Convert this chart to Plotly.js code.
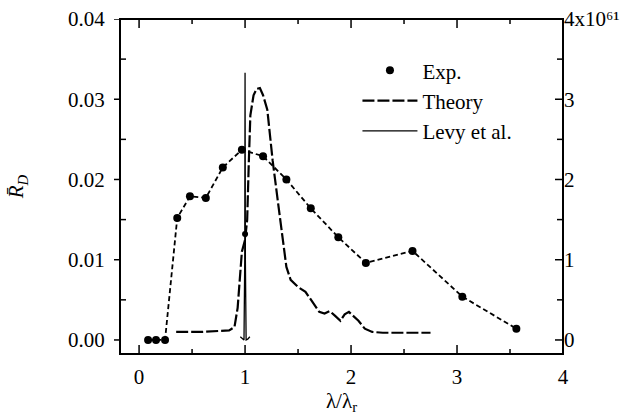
<!DOCTYPE html>
<html>
<head>
<meta charset="utf-8">
<script src="https://cdn.plot.ly/plotly-3.0.1.min.js"></script>
<style>html,body{margin:0;padding:0;background:#fff}#chart{width:636px;height:415px}#err{position:absolute;left:0;top:0;width:636px;font:10px monospace;color:red;white-space:pre-wrap}</style>
</head>
<body>
<div id="chart"></div>
<div id="err"></div>
<script>
function showErr(m){ document.getElementById('err').textContent += String(m).slice(0, 600) + '\n'; }
window.onerror = function(msg, src, line, col, e){ showErr('ERR ' + msg + ' ' + (e && e.stack ? e.stack : '')); };
window.addEventListener('unhandledrejection', function(ev){ showErr('REJ ' + (ev.reason && ev.reason.stack ? ev.reason.stack : ev.reason)); });

// Experimental points (lambda/lambda_r, R_D)
const expX = [0.085, 0.16, 0.245, 0.36, 0.48, 0.63, 0.79, 0.97, 1.17, 1.39, 1.62, 1.88, 2.14, 2.58, 3.05, 3.56];
const expY = [0, 0, 0, 0.0152, 0.0179, 0.0177, 0.0215, 0.0237, 0.0229, 0.0200, 0.0164, 0.0128, 0.0096, 0.0111, 0.0054, 0.0014];
// isolated point at resonance
const extraX = [1.0];
const extraY = [0.0132];
// Theory curve
const theoryX = [0.35, 0.6, 0.85, 0.9, 0.93, 0.955, 0.97, 1.0, 1.02, 1.035, 1.05, 1.08, 1.11, 1.14, 1.17, 1.21, 1.26, 1.32, 1.39, 1.43, 1.5, 1.57, 1.64, 1.7, 1.75, 1.8, 1.85, 1.9, 1.94, 1.98, 2.02, 2.07, 2.13, 2.2, 2.3, 2.5, 2.75];
const theoryY = [0.0010, 0.0010, 0.0012, 0.0016, 0.0040, 0.0090, 0.0110, 0.0125, 0.0150, 0.0220, 0.0280, 0.0305, 0.0313, 0.0314, 0.0305, 0.0287, 0.0224, 0.0162, 0.0091, 0.0075, 0.0066, 0.0060, 0.0046, 0.0035, 0.0033, 0.0036, 0.0030, 0.0024, 0.0032, 0.0035, 0.0030, 0.0024, 0.0014, 0.0010, 0.0009, 0.0009, 0.0009];
// Levy et al. (right axis, units of 10^61)
const levyX = [0.955, 0.975, 0.99, 0.997, 1.0, 1.003, 1.01, 1.025, 1.045];
const levyY = [0.04, 0.01, 0.0, 1.0, 3.33, 1.0, 0.0, 0.01, 0.04];
// ticks
const xTicks = [0, 1, 2, 3, 4];
const xMinor = [0.5, 1.5, 2.5, 3.5];
const yTicks = [0, 0.01, 0.02, 0.03, 0.04];
const yTickText = ["0.00", "0.01", "0.02", "0.03", "0.04"];
const yMinor = [0.005, 0.015, 0.025, 0.035];
const y2Ticks = [0, 1, 2, 3, 4];
const y2TickText = ["0", "1", "2", "3", "4x10\u2076\u00b9"];

const serif = "Liberation Serif, Times New Roman, serif";
const xRange = [-0.18, 4.0];
const yRange = [-0.00175, 0.04];
const y2Range = [-0.175, 4.0];

const traces = [
  {x: expX, y: expY, mode: 'lines', line: {color: '#000', width: 1.8, dash: '5px,3px'}, showlegend: false},
  {x: expX, y: expY, mode: 'markers', name: 'Exp.', marker: {color: '#000', size: 8}},
  {x: theoryX, y: theoryY, mode: 'lines', name: 'Theory', line: {color: '#000', width: 2.2, dash: '12px,3px'}},
  {x: levyX, y: levyY, yaxis: 'y2', mode: 'lines', name: 'Levy et al.', line: {color: '#000', width: 1.3}},
  {x: extraX, y: extraY, mode: 'markers', marker: {color: '#000', size: 6}, showlegend: false}
];

// frame and tick marks (positions come from the tick arrays)
const ln = {color: '#000', width: 1.5};
const shapes = [
  {type: 'rect', xref: 'paper', yref: 'paper', x0: 0, x1: 1, y0: 0, y1: 1, line: {color: '#000', width: 2}, layer: 'above'}
];
function xTick(v, len, top) {
  return {type: 'line', xref: 'x', yref: 'paper', ysizemode: 'pixel', yanchor: top ? 1 : 0,
          x0: v, x1: v, y0: 0, y1: top ? -len : len, line: ln, layer: 'above'};
}
function yTick(v, ref, anchor, a, b) {
  return {type: 'line', xref: 'paper', yref: ref, xsizemode: 'pixel', xanchor: anchor,
          x0: a, x1: b, y0: v, y1: v, line: ln, layer: 'above'};
}
xTicks.forEach(v => { shapes.push(xTick(v, 9, false)); shapes.push(xTick(v, 9, true)); });
xMinor.forEach(v => { shapes.push(xTick(v, 5, false)); shapes.push(xTick(v, 5, true)); });
yTicks.forEach(v => shapes.push(yTick(v, 'y', 0, -6, 0)));
yMinor.forEach(v => { shapes.push(yTick(v, 'y', 0, 0, 6)); shapes.push(yTick(v, 'y', 1, -6, 0)); });
y2Ticks.forEach(v => shapes.push(yTick(v, 'y2', 1, -8, 0)));

const clear = 'rgba(0,0,0,0)';
const layout = {
  width: 636, height: 415,
  margin: {l: 120, r: 73, t: 19, b: 61},
  font: {family: serif, size: 21, color: '#000'},
  showlegend: true,
  legend: {x: 0.536, y: 0.907, xanchor: 'left', yanchor: 'top', font: {family: serif, size: 21}, itemwidth: 55},
  shapes: shapes,
  xaxis: {
    range: xRange, tickmode: 'array', tickvals: xTicks, ticks: 'outside', ticklen: 4, tickcolor: clear,
    showline: false, showgrid: false, zeroline: false,
    title: {text: 'λ/λ<sub>r</sub>', font: {family: serif, size: 21}}
  },
  yaxis: {
    range: yRange, tickmode: 'array', tickvals: yTicks, ticktext: yTickText, ticks: 'outside', ticklen: 10, tickcolor: clear,
    showline: false, showgrid: false, zeroline: false,
    title: {text: '<i>R̄</i><sub><i>D</i></sub>', font: {family: serif, size: 21}, standoff: 38}
  },
  yaxis2: {
    overlaying: 'y', side: 'right', anchor: 'x', range: y2Range, tickmode: 'array', tickvals: y2Ticks, ticktext: y2TickText,
    ticks: '', showline: false, showgrid: false, zeroline: false
  }
};

try {
  const p = Plotly.newPlot('chart', traces, layout, {displayModeBar: false, staticPlot: true});
  if (p && p.catch) p.catch(e => showErr('CATCH ' + (e && e.stack ? e.stack : e)));
} catch (e) { showErr('SYNC ' + (e && e.stack ? e.stack : e)); }
setTimeout(function(){
  const n = document.querySelectorAll('#chart .layer-above path, #chart .shapelayer path').length;
  if (n === 0) showErr('no shape paths found');
}, 300);
</script>
</body>
</html>
